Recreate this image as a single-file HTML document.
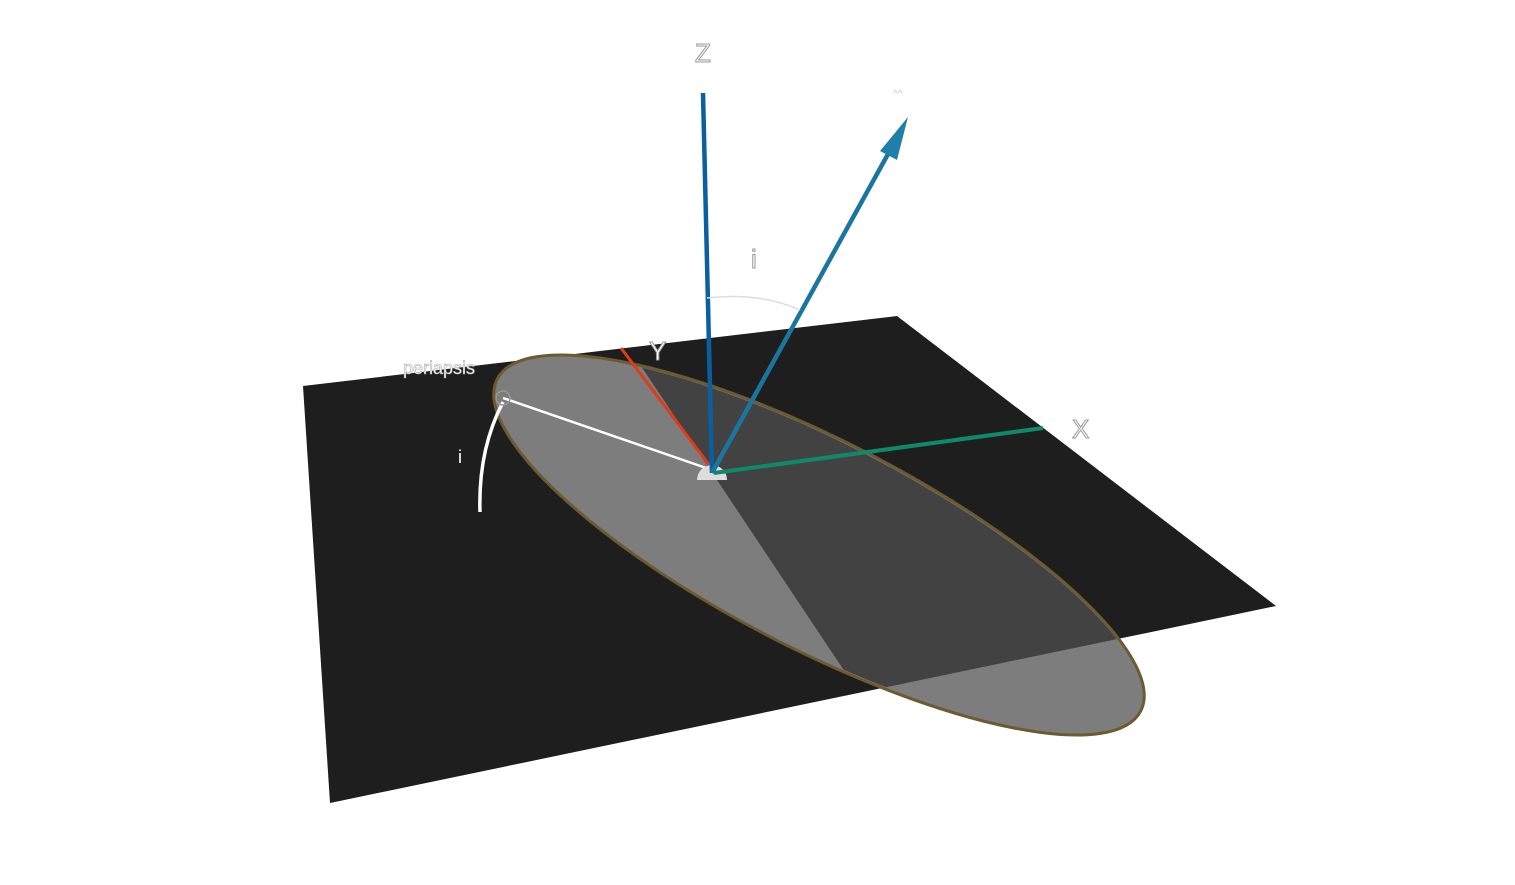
<!DOCTYPE html>
<html><head><meta charset="utf-8"><style>
html,body{margin:0;padding:0;background:#fff;}
svg{display:block;font-family:"Liberation Sans",sans-serif;}
</style></head><body>
<svg width="1515" height="885" viewBox="0 0 1515 885">
<defs>
<clipPath id="darkclip"><polygon points="303,386 897,316 1276,606 330,803"/></clipPath>
<clipPath id="halfclip"><polygon points="617,330 1515,330 1515,885 987,885"/></clipPath>
</defs>
<polygon points="303,386 897,316 1276,606 330,803" fill="#1e1e1e"/>
<g>
<ellipse cx="819" cy="545" rx="362" ry="104" transform="rotate(27.3 819 545)" fill="#7d7d7d" stroke="#6e5a30" stroke-width="3"/>
<g clip-path="url(#darkclip)"><g clip-path="url(#halfclip)">
<ellipse cx="819" cy="545" rx="360" ry="102" transform="rotate(27.3 819 545)" fill="#424242"/>
</g></g>
</g>
<line x1="710" y1="466" x2="621" y2="348" stroke="#e03a1a" stroke-width="3"/>
<line x1="503" y1="398" x2="712" y2="470" stroke="#fff" stroke-width="2.5"/>
<path d="M503,402 Q478,450 480,512" fill="none" stroke="#fff" stroke-width="3.5"/>
<circle cx="503" cy="398" r="7" fill="none" stroke="#999" stroke-width="1.5"/>
<path d="M697,480 A15,15 0 0 1 727,480 Z" fill="#ddd"/>
<line x1="714" y1="473" x2="1043" y2="428" stroke="#0e8a6a" stroke-width="4"/>
<line x1="712" y1="473" x2="703" y2="93" stroke="#0a5fa0" stroke-width="4.5"/>
<g>
<line x1="712" y1="473" x2="893" y2="145" stroke="#1a76a0" stroke-width="4.5"/>
<polygon points="908,117 880,151 897,160" fill="#1e80a8"/>
</g>
<path d="M707,298 Q760,292 800,310" fill="none" stroke="#ddd" stroke-width="1.5"/>
<g font-size="26" fill="#fff" stroke="#999" stroke-width="1">
<text x="695" y="62">Z</text>
<text x="649" y="360">Y</text>
<text x="1072" y="438">X</text>
<text x="751" y="268">i</text>
</g>
<text x="893" y="97" font-size="10" fill="#ccc">^^</text>
<text x="403" y="374" font-size="18" fill="#fff" stroke="#aaa" stroke-width="0.6">periapsis</text>
<text x="458" y="463" font-size="18" fill="#fff">i</text>
</svg>
</body></html>
